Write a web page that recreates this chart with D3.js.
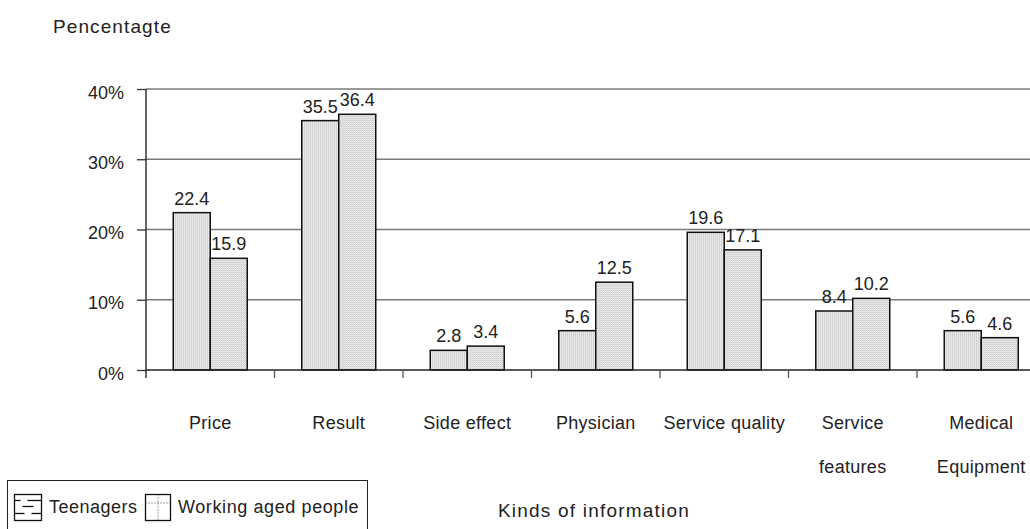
<!DOCTYPE html>
<html>
<head>
<meta charset="utf-8">
<script src="https://cdn.jsdelivr.net/npm/d3@7"></script>
<style>
  html, body { margin: 0; padding: 0; background: #fff; }
  svg { display: block; font-family: "Liberation Sans", Arial, sans-serif; }
</style>
</head>
<body>
<svg id="chart" width="1030" height="529"></svg>
<script>
// Survey data: share of respondents citing each kind of information
const categories = ["Price", "Result", "Side effect", "Physician", "Service quality", "Service features", "Medical Equipment"];
const categoryLines = [["Price"], ["Result"], ["Side effect"], ["Physician"], ["Service quality"], ["Service", "features"], ["Medical", "Equipment"]];
const seriesNames = ["Teenagers", "Working aged people"];
const teenagers = [22.4, 35.5, 2.8, 5.6, 19.6, 8.4, 5.6];
const workingAged = [15.9, 36.4, 3.4, 12.5, 17.1, 10.2, 4.6];
const yTicks = [0, 10, 20, 30, 40];

const svg = d3.select("#chart");
const plotLeft = 146, plotRight = 1045.5, plotTop = 89, plotBottom = 370;
const textColor = "#222";

// Fill patterns for the two series
const defs = svg.append("defs");
const p1 = defs.append("pattern").attr("id", "pat-teen").attr("patternUnits", "userSpaceOnUse")
  .attr("width", 2).attr("height", 2);
p1.append("rect").attr("width", 2).attr("height", 2).attr("fill", "#f2f2f2");
p1.append("rect").attr("width", 1).attr("height", 2).attr("fill", "#c8c8c8");
const p2 = defs.append("pattern").attr("id", "pat-work").attr("patternUnits", "userSpaceOnUse")
  .attr("width", 2).attr("height", 2);
p2.append("rect").attr("width", 2).attr("height", 2).attr("fill", "#f0f0f0");
p2.append("rect").attr("width", 1).attr("height", 1).attr("fill", "#bdbdbd");
p2.append("rect").attr("x", 1).attr("y", 1).attr("width", 1).attr("height", 1).attr("fill", "#d6d6d6");

const x = d3.scaleBand().domain(categories).range([plotLeft, plotRight]).paddingInner(0).paddingOuter(0);
const inner = d3.scaleBand().domain(seriesNames).range([0, 74]);
const y = d3.scaleLinear().domain([0, 40]).range([plotBottom, plotTop]);

// Gridlines
svg.append("g").selectAll("line").data(yTicks.filter(t => t > 0)).join("line")
  .attr("x1", plotLeft).attr("x2", 1030)
  .attr("y1", d => y(d)).attr("y2", d => y(d))
  .attr("stroke", "#7a7a7a").attr("stroke-width", 1.5);

// Y axis
const yAxis = svg.append("g").attr("transform", `translate(${plotLeft},0)`)
  .call(d3.axisLeft(y).tickValues(yTicks).tickSize(9).tickPadding(13).tickFormat(d => d + "%"));
yAxis.select(".domain").remove();
yAxis.selectAll(".tick line").attr("stroke", "#333").attr("stroke-width", 1.3);
yAxis.selectAll("text").attr("font-size", 18).attr("fill", textColor).attr("dy", "0.5em")
  .attr("font-family", "'Liberation Sans', Arial, sans-serif");
svg.append("line").attr("x1", plotLeft).attr("x2", plotLeft).attr("y1", plotTop).attr("y2", plotBottom + 8)
  .attr("stroke", "#333").attr("stroke-width", 1.5);

// Bars
const data = categories.map((c, i) => ({ c, vals: [teenagers[i], workingAged[i]] }));
const barOffset = (x.bandwidth() - 74) / 2;
const groups = svg.append("g").selectAll("g").data(data).join("g")
  .attr("transform", d => `translate(${x(d.c) + barOffset},0)`);
groups.selectAll("rect").data(d => d.vals.map((v, k) => ({ v, s: seriesNames[k] }))).join("rect")
  .attr("x", d => inner(d.s)).attr("width", inner.bandwidth())
  .attr("y", d => y(d.v)).attr("height", d => y(0) - y(d.v))
  .attr("fill", d => d.s === "Teenagers" ? "url(#pat-teen)" : "url(#pat-work)")
  .attr("stroke", "#111").attr("stroke-width", 1.5);
groups.selectAll("text").data(d => d.vals.map((v, k) => ({ v, s: seriesNames[k] }))).join("text")
  .attr("x", d => inner(d.s) + inner.bandwidth() / 2).attr("y", d => y(d.v) - 8)
  .attr("text-anchor", "middle").attr("font-size", 18).attr("fill", textColor)
  .text(d => d.v.toFixed(1));

// Baseline and category ticks
svg.append("line").attr("x1", plotLeft).attr("x2", 1030).attr("y1", plotBottom).attr("y2", plotBottom)
  .attr("stroke", "#222").attr("stroke-width", 1.5);
svg.append("g").selectAll("line").data(categories.slice(1)).join("line")
  .attr("x1", d => x(d)).attr("x2", d => x(d)).attr("y1", plotBottom).attr("y2", plotBottom + 8)
  .attr("stroke", "#555").attr("stroke-width", 1.3);

// Category labels
const cl = svg.append("g").selectAll("text").data(categories).join("text")
  .attr("x", d => x(d) + x.bandwidth() / 2).attr("y", 429)
  .attr("text-anchor", "middle").attr("font-size", 18).attr("letter-spacing", 0.3).attr("fill", textColor);
cl.selectAll("tspan").data((d, i) => categoryLines[i]).join("tspan")
  .attr("x", function () { return this.parentNode.getAttribute("x"); })
  .attr("dy", (d, i) => i === 0 ? 0 : 44).text(d => d);

// Axis titles
svg.append("text").attr("x", 53).attr("y", 33).attr("font-size", 19).attr("letter-spacing", 1.1)
  .attr("fill", textColor).text("Pencentagte");
svg.append("text").attr("x", 498).attr("y", 517).attr("font-size", 19).attr("letter-spacing", 1.2)
  .attr("fill", textColor).text("Kinds of information");

// Legend
const lg = svg.append("g");
lg.append("rect").attr("x", 7.5).attr("y", 480.5).attr("width", 360).attr("height", 60)
  .attr("fill", "#fff").attr("stroke", "#222").attr("stroke-width", 1);
const sw1 = lg.append("g").attr("transform", "translate(14.5,494.5)");
sw1.append("rect").attr("width", 27).attr("height", 26).attr("fill", "#fff").attr("stroke", "#111").attr("stroke-width", 1.3);
sw1.append("line").attr("x1", 0).attr("x2", 6).attr("y1", 6).attr("y2", 6).attr("stroke", "#111").attr("stroke-width", 1.3);
sw1.append("line").attr("x1", 13).attr("x2", 27).attr("y1", 6).attr("y2", 6).attr("stroke", "#111").attr("stroke-width", 1.3);
sw1.append("line").attr("x1", 8).attr("x2", 19).attr("y1", 12).attr("y2", 12).attr("stroke", "#111").attr("stroke-width", 1.3);
sw1.append("line").attr("x1", 0).attr("x2", 10).attr("y1", 19).attr("y2", 19).attr("stroke", "#111").attr("stroke-width", 1.3);
sw1.append("line").attr("x1", 17).attr("x2", 27).attr("y1", 19).attr("y2", 19).attr("stroke", "#111").attr("stroke-width", 1.3);
lg.append("text").attr("x", 49).attr("y", 513).attr("font-size", 18).attr("letter-spacing", 0.5)
  .attr("fill", textColor).text(seriesNames[0]);
const sw2 = lg.append("g").attr("transform", "translate(145.5,494.5)");
sw2.append("rect").attr("width", 25).attr("height", 26).attr("fill", "#fff").attr("stroke", "#111").attr("stroke-width", 1.3);
sw2.append("line").attr("x1", 12.5).attr("x2", 12.5).attr("y1", 0).attr("y2", 26).attr("stroke", "#444").attr("stroke-dasharray", "1,2");
sw2.append("line").attr("x1", 0).attr("x2", 25).attr("y1", 8.5).attr("y2", 8.5).attr("stroke", "#444").attr("stroke-dasharray", "1,2");
lg.append("text").attr("x", 178).attr("y", 513).attr("font-size", 18).attr("letter-spacing", 0.6)
  .attr("fill", textColor).text(seriesNames[1]);
</script>
</body>
</html>
